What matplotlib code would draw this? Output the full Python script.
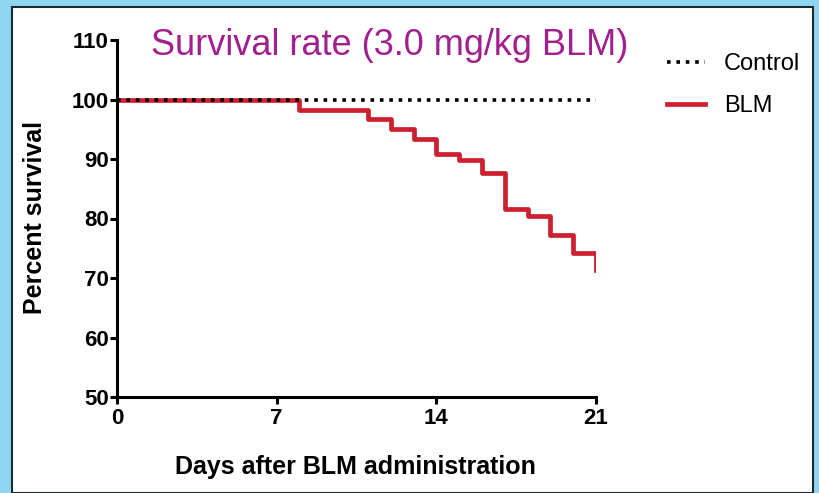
import matplotlib
matplotlib.use("Agg")
import matplotlib.pyplot as plt
from matplotlib.patches import Rectangle

# survival curves (days, percent)
control_days = [0, 21]
control_pct = [100, 100]

blm_days = [0, 8, 11, 12, 13, 14, 15, 16, 17, 18, 19, 20, 21]
blm_pct = [100, 98.3, 96.7, 95.0, 93.3, 90.8, 89.8, 87.7, 81.6, 80.4, 77.3, 74.2, 71.3]

x_ticks = [0, 7, 14, 21]
y_ticks = [50, 60, 70, 80, 90, 100, 110]

SANS = ["Liberation Sans", "DejaVu Sans"]
RED = "#cc1f2f"

fig = plt.figure(figsize=(8.2, 4.93), dpi=100)
fig.patch.set_facecolor("#8fd6f3")

# white slide panel
fig.patches.append(Rectangle((12 / 820, 0), 801 / 820, 486 / 493, transform=fig.transFigure,
                             facecolor="white", edgecolor="#1a2a33", linewidth=1.5, zorder=-5))

ax = fig.add_axes([117 / 820, 96 / 493, 479 / 820, 357 / 493], zorder=2)
ax.set_facecolor("none")

ax.step(control_days, control_pct, where="post", color="black", linestyle=(0, (1, 1.6)),
        linewidth=2.6, label="Control", zorder=3)
ax.step(blm_days + [21], blm_pct + [blm_pct[-1]], where="post", color=RED, linewidth=3.4,
        label="BLM", zorder=2)

ax.set_xlim(0, 21)
ax.set_ylim(50, 110)
ax.set_xticks(x_ticks)
ax.set_yticks(y_ticks)
for s in ["top", "right"]:
    ax.spines[s].set_visible(False)
for s in ["left", "bottom"]:
    ax.spines[s].set_linewidth(2.2)
ax.tick_params(width=2.2, length=5, labelsize=16, pad=1)
ax.tick_params(axis="x", pad=3)
for lab in ax.get_xticklabels() + ax.get_yticklabels():
    lab.set_family(SANS)
    lab.set_fontweight("bold")

fig.text(0.043, 0.558, "Percent survival", rotation=90, ha="center", va="center",
         fontsize=18, fontweight="bold", family=SANS)
fig.text(0.434, 0.052, "Days after BLM administration", ha="center", va="center",
         fontsize=18, fontweight="bold", family=SANS)
fig.text(0.475, 0.908, "Survival rate (3.0 mg/kg BLM)", ha="center", va="center",
         fontsize=26, color="#a21f8e", family=SANS)

leg = ax.legend(loc="upper left", bbox_to_anchor=(1.104, 1.022), frameon=False,
                handlelength=1.6, handletextpad=0.8, labelspacing=0.85,
                prop={"family": SANS, "size": 17})

fig.savefig("out.png", dpi=100, facecolor=fig.get_facecolor())
